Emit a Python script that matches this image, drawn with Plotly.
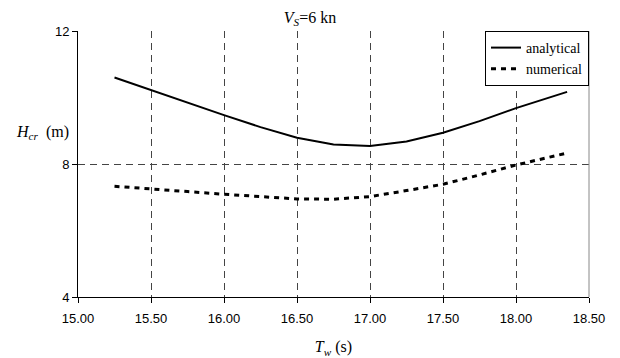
import plotly.graph_objects as go

T_w = [15.25, 15.5, 15.75, 16.0, 16.25, 16.5, 16.75, 17.0, 17.25, 17.5, 17.75, 18.0, 18.35]
H_analytical = [10.60, 10.22, 9.85, 9.47, 9.11, 8.79, 8.59, 8.54, 8.68, 8.94, 9.29, 9.68, 10.17]
H_numerical = [7.33, 7.26, 7.17, 7.09, 7.02, 6.95, 6.94, 7.02, 7.20, 7.39, 7.67, 7.97, 8.33]

x_ticks = [15.0, 15.5, 16.0, 16.5, 17.0, 17.5, 18.0, 18.5]
y_ticks = [4, 8, 12]

serif = "Liberation Serif"
sans = "Liberation Sans"

fig = go.Figure()
fig.add_trace(go.Scatter(x=T_w, y=H_analytical, mode="lines", name="analytical",
                         line=dict(color="black", width=2)))
fig.add_trace(go.Scatter(x=T_w, y=H_numerical, mode="lines", name="numerical",
                         line=dict(color="black", width=3, dash="5px,5px")))

fig.update_layout(
    width=620, height=358,
    margin=dict(l=78, r=31, t=31, b=61, autoexpand=False),
    paper_bgcolor="white", plot_bgcolor="white",
    showlegend=True,
    legend=dict(x=1, y=1, xanchor="right", yanchor="top",
                bgcolor="white", bordercolor="black", borderwidth=1,
                font=dict(family=serif, size=14, color="black"),
                tracegroupgap=0, itemwidth=30),
    title=dict(text="<i>V<sub>S</sub></i>=6 kn", x=0.5, xanchor="center",
               y=1 - 17 / 358, yanchor="middle",
               font=dict(family=serif, size=16, color="black")),
)

fig.update_xaxes(range=[15, 18.5], tickvals=x_ticks, tickformat=".2f",
                 showline=True, linecolor="black", linewidth=1,
                 ticks="outside", ticklen=5, tickcolor="black",
                 ticklabelstandoff=4,
                 showgrid=True, gridcolor="#444", griddash="7px,5px", gridwidth=1,
                 zeroline=False, automargin=False,
                 tickfont=dict(family=sans, size=13, color="black"),
                 title=dict(text="<i>T<sub>w</sub></i> (s)",
                            font=dict(family=serif, size=16, color="black"),
                            standoff=16))
fig.update_yaxes(range=[4, 12], tickvals=y_ticks,
                 showline=True, linecolor="black", linewidth=1,
                 ticks="outside", ticklen=5, tickcolor="black",
                 showgrid=True, gridcolor="#444", griddash="7px,5px", gridwidth=1,
                 zeroline=False, automargin=False,
                 tickfont=dict(family=sans, size=13, color="black"))

fig.add_annotation(text="<i>H<sub>cr</sub></i>  (m)", xref="paper", yref="paper",
                   x=-0.07, y=0.617, xanchor="center", yanchor="middle", showarrow=False,
                   font=dict(family=serif, size=16, color="black"))

fig.add_shape(type="line", xref="paper", yref="paper", x0=1, x1=1, y0=0, y1=1,
              line=dict(color="#888", width=1))

fig.write_html("out.html")
